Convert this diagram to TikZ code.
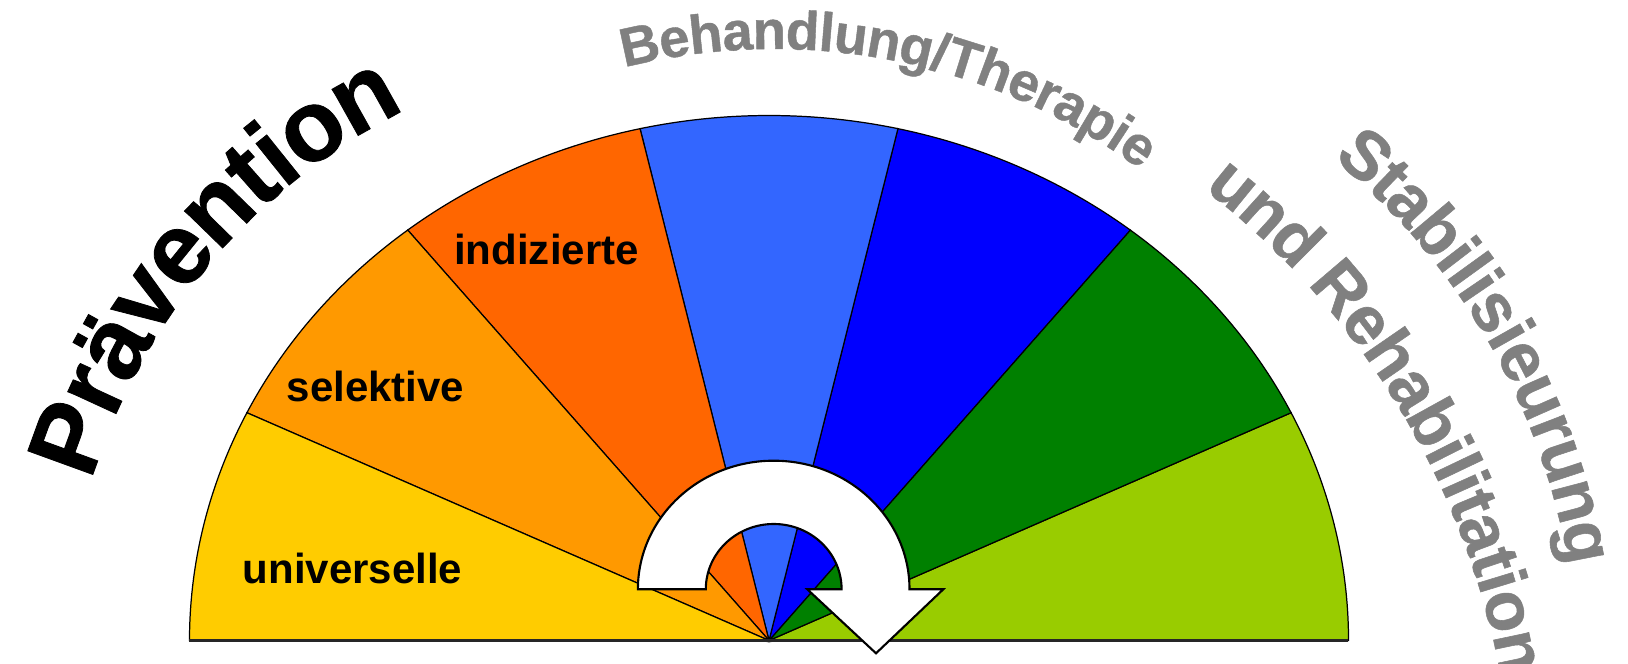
\documentclass[tikz,border=0pt]{standalone}
\usepackage{fontspec}
\setmainfont{Liberation Sans}
\newfontfamily\archfont{Liberation Sans}[BoldFeatures={FakeBold=0.8}]
\usetikzlibrary{decorations.text}
\definecolor{cYel}{HTML}{FFCC00}
\definecolor{cOra}{HTML}{FF9900}
\definecolor{cDOra}{HTML}{FF6600}
\definecolor{cLBlu}{HTML}{3366FF}
\definecolor{cBlu}{HTML}{0000FF}
\definecolor{cGrn}{HTML}{008000}
\definecolor{cLim}{HTML}{99CC00}
\definecolor{txtgray}{HTML}{808080}
\newcommand\LblFont{\fontsize{11.95}{14}\selectfont\bfseries}
\newcommand\PrvFont{\archfont\fontsize{28.6}{32}\selectfont\bfseries\color{black}}
\newcommand\BehFont{\archfont\fontsize{15.5}{18}\selectfont\bfseries\color{txtgray}}
\newcommand\StbFont{\archfont\fontsize{19.5}{22}\selectfont\bfseries\color{txtgray}}
\begin{document}
\begin{tikzpicture}[x=0.01cm,y=0.01cm,
  sector/.style={draw=black,line width=0.35pt},
  lbl/.style={font=\LblFont,anchor=base,inner sep=0pt},
  arrowshape/.style={fill=white,draw=black,line width=0.6pt,line join=miter}]
\useasboundingbox (0,0) rectangle (1628,664);
\clip (0,0) rectangle (1628,664);
\coordinate (C) at (769,23.5);
\foreach \a/\b/\c in {0/25.714/cLim,25.714/51.429/cGrn,51.429/77.143/cBlu,77.143/102.857/cLBlu,102.857/128.571/cDOra,128.571/154.286/cOra,154.286/180/cYel}
  \filldraw[sector,fill=\c] (C) -- +(\a:579.5 and 525) arc[start angle=\a,end angle=\b,x radius=579.5,y radius=525] -- cycle;
\coordinate (BL) at (189.3,23.5);
\coordinate (BR) at (1348.3,23.5);
\draw[line width=0.7pt,black!85] (BL) -- (BR);
% curved arrow
\filldraw[arrowshape] (637.9,74.7) arc[start angle=180,end angle=0,x radius=135.8,y radius=128.6]
  -- (943.3,74.7) -- (876,10.7) -- (807.3,74.7) -- (841.6,74.7)
  arc[start angle=0,end angle=180,x radius=67.9,y radius=65.3] -- cycle;
% labels
\node[lbl] (univ) at (352.5,80.7) {universelle};
\node[lbl] (sel) at (375.5,262.3) {selektive};
\node[lbl] (ind) at (546.5,399) {indizierte};
% arched texts
\path[decorate,decoration={text along path,text={|\PrvFont|Prävention},text align=left,raise=-0.27cm}]
  (678,5) ++(163:640) arc[start angle=163,end angle=105,radius=640];
\path[decorate,decoration={text along path,text={|\BehFont|Behandlung/Therapie},text align=left,raise=-0.16cm}]
  (774,-2) ++(104:633) arc[start angle=104,end angle=45,radius=633];
\path[decorate,decoration={text along path,text={|\StbFont|Stabilisieurung},text align=left,raise=-0.21cm}]
  (908.7,-11.7) ++(50.6:690) arc[start angle=50.6,end angle=2,radius=690];
\path[decorate,decoration={text along path,text={|\StbFont|und Rehabilitation},text align=left,raise=-0.21cm}]
  (716.4,-156.1) ++(52.3:818.5) arc[start angle=52.3,end angle=3,radius=818.5];
\end{tikzpicture}
\end{document}
